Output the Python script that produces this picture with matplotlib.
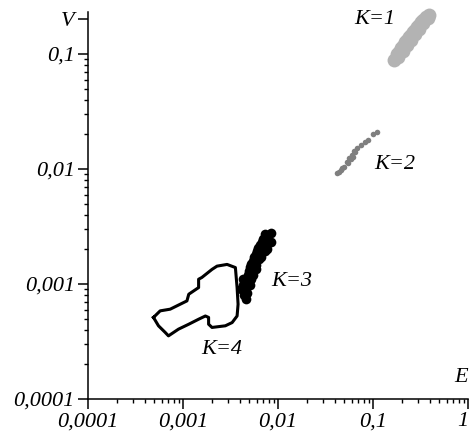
import numpy as np
import matplotlib
matplotlib.use('Agg')
import matplotlib.pyplot as plt
from matplotlib.ticker import LogLocator, NullFormatter

# cluster K=1 (light grey blob)
e_k1 = [0.178, 0.196, 0.216, 0.238, 0.263, 0.290, 0.319, 0.361, 0.380, 0.185, 0.205, 0.228, 0.250, 0.275, 0.305, 0.340,
        0.187, 0.206, 0.227, 0.250, 0.276, 0.304, 0.335, 0.387, 0.166]
v_k1 = [0.100, 0.113, 0.127, 0.141, 0.156, 0.172, 0.190, 0.210, 0.205, 0.094, 0.106, 0.119, 0.133, 0.148, 0.165, 0.185,
        0.104, 0.117, 0.132, 0.147, 0.162, 0.179, 0.198, 0.218, 0.0889]

# cluster K=2 (grey dots)
e_k2 = [0.0422, 0.0457, 0.0496, 0.0528, 0.0558, 0.0597, 0.0631, 0.0686, 0.0743, 0.0818, 0.0881, 0.0993, 0.110,
        0.0582, 0.0470, 0.0650, 0.0540, 0.0610, 0.0440]
v_k2 = [0.00925, 0.00989, 0.0105, 0.0116, 0.0125, 0.0133, 0.0143, 0.0152, 0.0163, 0.0173, 0.0180, 0.0203, 0.0211,
        0.0121, 0.0103, 0.0140, 0.0112, 0.0128, 0.00950]

# cluster K=3 (black blob)
e_k3 = [0.00443, 0.00466, 0.00477, 0.00500, 0.00525, 0.00565, 0.00608, 0.00653, 0.00703, 0.00721,
        0.00853, 0.00853, 0.00757, 0.00670, 0.00593, 0.00551, 0.00513, 0.00412, 0.00433, 0.00466,
        0.00454, 0.00489, 0.00489, 0.00513, 0.00551, 0.00580, 0.00622, 0.00685, 0.00774, 0.00794,
        0.00721, 0.00638, 0.00580, 0.00525, 0.00477, 0.00433]
v_k3 = [0.000798, 0.000935, 0.00110, 0.00129, 0.00148, 0.00171, 0.00192, 0.00217, 0.00244, 0.00270,
        0.00275, 0.00234, 0.00200, 0.00171, 0.00145, 0.00119, 0.000975, 0.000899, 0.00110, 0.000736,
        0.000865, 0.00101, 0.00119, 0.00140, 0.00157, 0.00181, 0.00204, 0.00230, 0.00254, 0.00225,
        0.00192, 0.00164, 0.00134, 0.00110, 0.000829, 0.000975]

# region K=4 (outline)
e_k4 = [4.89e-4, 5.75e-4, 7.33e-4, 1.10e-3, 1.15e-3, 1.29e-3, 1.46e-3, 1.46e-3, 1.58e-3, 2.02e-3,
        2.28e-3, 2.91e-3, 3.56e-3, 3.71e-3, 3.80e-3, 3.71e-3, 3.29e-3, 2.79e-3, 2.02e-3, 1.86e-3,
        1.86e-3, 1.72e-3, 1.46e-3, 1.15e-3, 8.97e-4, 7.03e-4, 6.50e-4, 5.52e-4, 4.89e-4]
v_k4 = [5.12e-4, 5.84e-4, 6.04e-4, 7.13e-4, 8.15e-4, 8.69e-4, 9.31e-4, 1.10e-3, 1.14e-3, 1.34e-3,
        1.43e-3, 1.48e-3, 1.39e-3, 9.31e-4, 6.67e-4, 5.27e-4, 4.62e-4, 4.33e-4, 4.19e-4, 4.47e-4,
        5.12e-4, 5.27e-4, 4.94e-4, 4.47e-4, 4.05e-4, 3.54e-4, 3.79e-4, 4.33e-4, 5.12e-4]

labels = ['K=1', 'K=2', 'K=3', 'K=4']
label_e = [0.104, 0.170, 0.0139, 0.00254]
label_v = [0.198, 0.0109, 0.00105, 0.000272]

xticks = [1e-4, 1e-3, 1e-2, 1e-1, 1]
xticklabels = ['0,0001', '0,001', '0,01', '0,1', '1']
yticks = [1e-4, 1e-3, 1e-2, 1e-1, 0.2]
yticklabels = ['0,0001', '0,001', '0,01', '0,1', 'V']

plt.rcParams['font.family'] = ['Liberation Serif', 'DejaVu Serif']
plt.rcParams['font.style'] = 'italic'
FS = 16

fig = plt.figure(figsize=(4.71, 4.36), dpi=100)
ax = fig.add_axes([88/471, 37/436, 380/471, 387/436])

ax.plot(e_k4, v_k4, '-', color='black', lw=2.2, zorder=2)
ax.plot(e_k3, v_k3, 'o', color='black', ms=7, mew=0, zorder=3)
ax.plot(e_k2, v_k2, 'o', color='#7f7f7f', ms=4, mew=0, zorder=3)
ax.plot(e_k1, v_k1, 'o', color='#b3b3b3', ms=10, mew=0, zorder=3, clip_on=False)

for lab, xe, yv in zip(labels, label_e, label_v):
    ax.text(xe, yv, lab, fontsize=FS, ha='center', va='center', style='italic')

ax.set_xscale('log')
ax.set_yscale('log')
ax.set_xlim(1e-4, 1)
ax.set_ylim(1e-4, 10**(-1 + 42/115.))

for s in ['top', 'right']:
    ax.spines[s].set_visible(False)
for s in ['left', 'bottom']:
    ax.spines[s].set_linewidth(1.1)

ax.set_xticks(xticks)
ax.set_xticklabels(xticklabels)
ax.set_yticks(yticks)
ax.set_yticklabels(yticklabels)
ax.get_xticklabels()[-1].set_horizontalalignment('right')
ax.xaxis.set_minor_locator(LogLocator(base=10, subs=np.arange(2, 10)))
ax.yaxis.set_minor_locator(LogLocator(base=10, subs=np.arange(2, 10)))
ax.xaxis.set_minor_formatter(NullFormatter())
ax.yaxis.set_minor_formatter(NullFormatter())
ax.tick_params(which='major', direction='out', length=7.5, width=1.1, labelsize=FS, pad=2)
ax.tick_params(which='minor', direction='out', length=3, width=1.0)

ax.text(1.0, 0.03, 'E', transform=ax.transAxes, fontsize=FS, ha='right', va='bottom', style='italic')

fig.savefig('out.png', dpi=100)
